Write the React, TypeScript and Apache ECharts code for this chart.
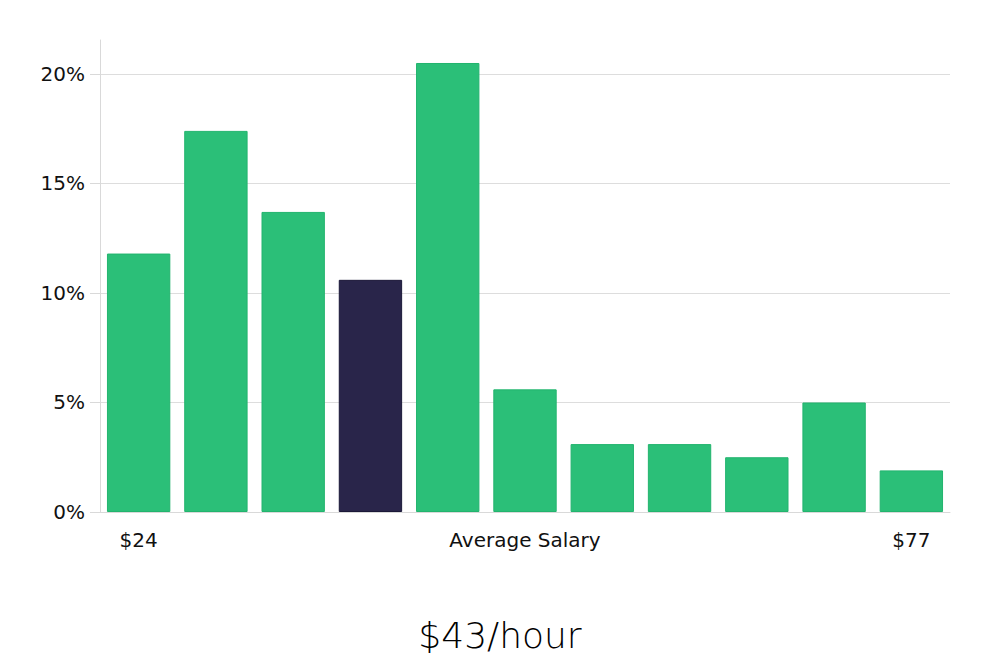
import React, { useEffect, useRef } from "react";
import * as echarts from "echarts";

const categories = ["$24", "", "", "", "", "Average Salary", "", "", "", "", "$77"];
const values = [11.8, 17.4, 13.7, 10.6, 20.5, 5.6, 3.1, 3.1, 2.5, 5.0, 1.9];
const highlightIndex = 3;
const yTicks = [0, 5, 10, 15, 20];
const titleText = "$43/hour";

export default function App() {
  const ref = useRef<HTMLDivElement>(null);
  useEffect(() => {
    if (!ref.current) return;
    const chart = echarts.init(ref.current, undefined, { renderer: "svg" });
    const green = "#2bbf78";
    const greenBorder = "#22b46e";
    const dark = "#29254a";
    const darkBorder = "#1b1838";
    chart.setOption({
      animation: false,
      grid: { left: 100, right: 50, top: 40, bottom: 148 },
      title: {
        text: titleText,
        left: "center",
        top: 612,
        textStyle: { fontFamily: "DejaVu Sans", fontWeight: 200, fontSize: 36, color: "#000" },
      },
      xAxis: {
        type: "category",
        data: categories,
        axisLine: { show: true, lineStyle: { color: "#d9d9d9", width: 1 } },
        axisTick: { show: false },
        axisLabel: {
          interval: 0,
          margin: 18,
          fontFamily: "DejaVu Sans",
          fontSize: 20,
          color: "#111",
        },
      },
      yAxis: {
        type: "value",
        min: 0,
        max: 21.55,
        interval: 5,
        axisLine: { show: true, lineStyle: { color: "#d9d9d9", width: 1 } },
        axisTick: { show: true, length: 10, customValues: yTicks, lineStyle: { color: "#d9d9d9" } },
        splitLine: { show: true, lineStyle: { color: "#dddddd", width: 1 } },
        axisLabel: {
          customValues: yTicks,
          margin: 15,
          fontFamily: "DejaVu Sans",
          fontSize: 20,
          color: "#111",
          formatter: (v: number) => `${v}%`,
        },
      },
      series: [
        {
          type: "bar",
          barCategoryGap: "18%",
          data: values.map((v, i) => ({
            value: v,
            itemStyle:
              i === highlightIndex
                ? { color: dark, borderColor: darkBorder, borderWidth: 1 }
                : { color: green, borderColor: greenBorder, borderWidth: 1 },
          })),
        },
      ],
    });
    return () => chart.dispose();
  }, []);
  return (
    <div
      ref={ref}
      style={{ position: "absolute", left: 0, top: 0, width: 1000, height: 660, background: "#fff" }}
    />
  );
}
